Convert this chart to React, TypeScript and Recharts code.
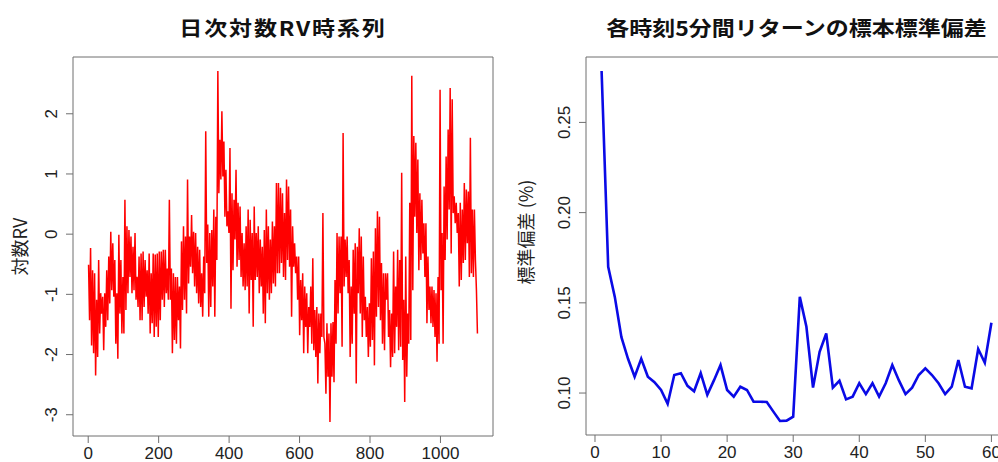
import React from 'react';
import { LineChart, Line, XAxis, YAxis, ReferenceArea } from 'recharts';

// 日次対数RV (~2.9 days per value, first day 1, last day 1105)
const rvFirstDay = 1;
const rvLastDay = 1105;
const rvLogValues: number[] = [
  -0.51, -1.43, -0.23, -1.85, -0.60, -1.98, -0.65, -2.35, -1.09, -2.04, -0.43, -1.65, -0.98, -1.32, -1.04, -1.93, -0.98, -1.54, -0.60, -1.43,
  -0.37, -1.15, 0.04, -0.93, -0.15, -1.04, -0.43, -1.82, -0.98, -2.07, -0.01, -1.32, -0.43, -1.65, -0.71, -1.65, 0.57, -1.26, 0.13, -0.98,
  0.07, -0.71, -0.04, -0.98, -0.21, -0.93, 0.02, -1.09, -0.71, -1.21, -0.37, -1.43, -0.32, -1.43, -0.29, -1.21, -0.43, -1.04, -0.60, -1.32,
  -0.32, -1.65, -0.65, -1.48, -0.32, -1.71, -0.34, -1.54, -0.32, -1.71, -0.29, -1.43, -0.29, -1.09, -0.26, -1.21, -0.26, -0.98, -0.57, -1.09,
  0.57, -1.09, -0.57, -1.98, -0.65, -1.76, -0.71, -1.82,
  -0.71, -1.43, -0.87, -1.90, -0.12, -1.26, 0.13, -1.09, -0.04, -1.32, 0.91, -0.82, -0.04, -0.54, 0.32, -0.65, 0.04, -0.87, 0.02, -0.98,
  -0.21, -1.15, -0.26, -1.21, -0.65, -1.37, -0.37, -0.98, 1.71, -0.48, 0.16, -1.37, 0.02, -1.21, 0.07, -0.87, 0.41, -1.37, 0.29, -0.43,
  2.71, 0.68, 1.57, 0.91, 2.04, 0.96, 1.54, 0.29, 1.07, 0.13, 0.38, 0.02, 1.43, -1.24, 0.68, -0.60, 0.57, -0.09, 1.07, -0.54,
  0.52, -0.43, 0.46, -0.71, 0.02, -0.87, -0.15, -0.93, 0.13, -0.87, 0.41, -1.32, 0.24, -0.76, 0.02, -1.54, 0.46, -0.76, 0.02, -0.71,
  0.13, -0.98, -0.09, -0.87, -0.21, -1.32, 0.07, -1.48, 0.41, -0.98, 0.13, -1.09, -0.09, -0.98, 0.21, -0.82, 0.13, -0.87, 0.85, -0.65,
  0.85, -0.65, 0.77, -0.48,
  0.68, -0.71, 0.35, -0.76, 0.91, -0.43, 0.79, -0.54, 0.41, -1.37, 0.13, -0.54, -0.15, -0.65, -0.37, -1.09, -0.37, -1.68, -0.76, -1.43,
  -0.65, -1.98, -0.87, -1.54, -0.98, -1.98, -1.21, -1.54, -0.87, -1.82, -0.40, -1.93, -1.26, -2.04, -1.21, -2.48, -1.32, -1.98, -1.32, -1.71,
  0.35, -1.71, -1.82, -2.65, -1.48, -2.37, -1.65, -3.12, -1.48, -2.37, -1.46, -2.46, -0.76, -1.82, 0.02, -1.32, -0.04, -0.98, -0.04, -1.87,
  1.68, -0.87, -0.09, -0.71, -0.04, -0.98, -0.43, -2.04, -0.87, -1.82, -0.26, -1.32, -0.15, -2.48, -0.21, -0.98, 0.10, -1.32, -0.04, -1.71,
  -0.37, -1.43, -1.04, -1.71, -1.21, -2.04, -1.15, -1.87, -0.40, -1.76, -0.29, -2.18, 0.10, -1.37, 0.38, -1.21, 0.29, -1.43, -0.48, -1.82,
  -0.65, -1.93, -0.65, -1.09,
  -0.65, -1.71, -1.26, -2.21, -1.32, -2.04, -0.29, -1.98, -0.87, -1.54, -0.26, -1.93, -0.43, -1.87, 1.02, -2.09, -1.09, -2.79, -0.37, -2.37,
  -1.32, -1.82, 0.52, -1.76, 2.63, -0.93, 1.63, 0.29, 1.52, 0.02, 1.24, -0.60, 0.68, -0.43, 0.57, -0.32, 0.18, -0.71, 0.18, -1.48,
  -0.37, -1.26, -0.87, -1.48, -0.87, -1.54, -0.93, -1.71, -0.98, -2.12, -0.71, -1.82, 2.40, -0.93, 0.02, -1.82, 0.79, -0.43, 1.29, -0.09,
  1.74, 0.41, 2.43, -0.32, 2.24, 0.35, 0.63, 0.18, 0.52, 0.02, 0.35, -0.87, 0.52, -0.76, 0.41, -0.48, 0.85, -0.43, 0.74, -0.15,
  0.71, -0.71, 1.60, -0.65, 0.41, -0.71, 0.41, -0.43, -0.93, -1.65,
];
const rvXTicks = [0, 200, 400, 600, 800, 1000];
const rvYTicks = [-3, -2, -1, 0, 1, 2];

// 各時刻 (5分刻み) の標本標準偏差 (%)
const sdSlots: number[] = Array.from({ length: 60 }, (_, i) => i + 1);
const sdValues: number[] = [
  0.2785, 0.170, 0.1533, 0.131, 0.119, 0.109, 0.119, 0.109, 0.106, 0.1017,
  0.094, 0.110, 0.111, 0.104, 0.101, 0.111, 0.099, 0.107, 0.1155, 0.1017,
  0.098, 0.1035, 0.1017, 0.0952, 0.0952, 0.095, 0.0897, 0.0845, 0.0847, 0.0869,
  0.1533, 0.1367, 0.103, 0.1229, 0.133, 0.103, 0.1068, 0.0965, 0.098, 0.1054,
  0.0994, 0.1054, 0.098, 0.1054, 0.1155, 0.107, 0.0994, 0.103, 0.110, 0.1137,
  0.110, 0.1054, 0.0994, 0.1035, 0.1183, 0.1035, 0.1026, 0.1244, 0.1168, 0.139,
];
const sdXTicks = [0, 10, 20, 30, 40, 50, 60];
const sdYTicks = [0.1, 0.15, 0.2, 0.25];

// R style: range padded by 4% on each side
const padRange = (lo: number, hi: number): [number, number] => {
  const d = (hi - lo) * 0.04;
  return [lo - d, hi + d];
};

const rvStep = (rvLastDay - rvFirstDay) / (rvLogValues.length - 1);
const rvData = rvLogValues.map((v, i) => ({ day: rvFirstDay + i * rvStep, v }));
const sdData = sdSlots.map((s, i) => ({ slot: s, sd: sdValues[i] }));

const rvXDomain = padRange(rvFirstDay, rvLastDay);
const rvYDomain = padRange(Math.min(...rvLogValues), Math.max(...rvLogValues));
const sdXDomain = padRange(sdSlots[0], sdSlots[sdSlots.length - 1]);
const sdYDomain = padRange(Math.min(...sdValues), Math.max(...sdValues));

const LATIN = '"Liberation Sans", Arial, sans-serif';
const CJK = '"Noto Sans CJK JP", "Noto Sans", sans-serif';
const BOX = '#6f6f6f';
const INK = '#222';

const XTick = (props: any) => {
  const { x, y, payload } = props;
  return (
    <text x={x} y={y + 16} textAnchor="middle" fontSize={17} fontFamily={LATIN} fill={INK}>
      {payload.value}
    </text>
  );
};

const makeYTick = (fmt: (v: number) => string) => (props: any) => {
  const { x, y, payload } = props;
  const bx = x - 9;
  return (
    <text x={bx} y={y} transform={`rotate(-90, ${bx}, ${y})`} textAnchor="middle" fontSize={17} fontFamily={LATIN} fill={INK}>
      {fmt(payload.value)}
    </text>
  );
};

// dy nudges the centre of the rotated title along the axis
const makeYTitle = (text: string, bx: number, dy: number) => (props: any) => {
  const { viewBox } = props;
  const cy = viewBox.y + viewBox.height / 2 + dy;
  return (
    <text x={bx} y={cy} transform={`rotate(-90, ${bx}, ${cy})`} textAnchor="middle" fontSize={18} fontFamily={CJK} fill={INK}>
      {text}
    </text>
  );
};

const titleStyle = (left: number, width: number, spacing: number): React.CSSProperties => ({
  position: 'absolute',
  left,
  width,
  top: 13,
  textAlign: 'center',
  fontFamily: CJK,
  fontWeight: 700,
  fontSize: 20,
  lineHeight: '30px',
  letterSpacing: spacing,
  color: '#111',
  transform: 'scaleX(1.15)',
  whiteSpace: 'nowrap',
});

export default function App() {
  return (
    <div style={{ position: 'absolute', left: 0, top: 0, width: 998, height: 462, overflow: 'hidden', background: '#fff' }}>
      <div style={titleStyle(73, 420, 1.6)}>日次対数RV時系列</div>
      <div style={titleStyle(586, 421, 0)}>各時刻5分間リターンの標本標準偏差</div>

      <div style={{ position: 'absolute', left: 0, top: 0 }}>
        <LineChart width={500} height={462} data={rvData} margin={{ top: 57, right: 7, bottom: 0, left: 0 }}>
          <XAxis
            dataKey="day"
            type="number"
            domain={rvXDomain}
            ticks={rvXTicks}
            allowDataOverflow
            height={26}
            axisLine={false}
            tickLine={{ stroke: BOX }}
            tickSize={7}
            tickMargin={0}
            tick={<XTick />}
          />
          <YAxis
            type="number"
            domain={rvYDomain}
            ticks={rvYTicks}
            allowDataOverflow
            width={73}
            axisLine={false}
            tickLine={{ stroke: BOX }}
            tickSize={7}
            tickMargin={0}
            tick={makeYTick((v) => String(v))}
            label={{ content: makeYTitle('対数RV', 27, 0) }}
          />
          <ReferenceArea
            x1={rvXDomain[0]}
            x2={rvXDomain[1]}
            y1={rvYDomain[0]}
            y2={rvYDomain[1]}
            fill="none"
            stroke={BOX}
            strokeWidth={1}
            ifOverflow="visible"
          />
          <Line dataKey="v" stroke="#ff0000" strokeWidth={1.5} dot={false} isAnimationActive={false} />
        </LineChart>
      </div>

      <div style={{ position: 'absolute', left: 500, top: 0 }}>
        <LineChart width={520} height={462} data={sdData} margin={{ top: 57, right: 13, bottom: 0, left: 0 }}>
          <XAxis
            dataKey="slot"
            type="number"
            domain={sdXDomain}
            ticks={sdXTicks}
            allowDataOverflow
            height={27}
            axisLine={false}
            tickLine={{ stroke: BOX }}
            tickSize={7}
            tickMargin={0}
            tick={<XTick />}
          />
          <YAxis
            type="number"
            domain={sdYDomain}
            ticks={sdYTicks}
            allowDataOverflow
            width={86}
            axisLine={false}
            tickLine={{ stroke: BOX }}
            tickSize={7}
            tickMargin={0}
            tick={makeYTick((v) => v.toFixed(2))}
            label={{ content: makeYTitle('標準偏差 (%)', 33, -14) }}
          />
          <ReferenceArea
            x1={sdXDomain[0]}
            x2={sdXDomain[1]}
            y1={sdYDomain[0]}
            y2={sdYDomain[1]}
            fill="none"
            stroke={BOX}
            strokeWidth={1}
            ifOverflow="visible"
          />
          <Line dataKey="sd" stroke="#0a0ae6" strokeWidth={2.6} dot={false} isAnimationActive={false} />
        </LineChart>
      </div>
    </div>
  );
}
